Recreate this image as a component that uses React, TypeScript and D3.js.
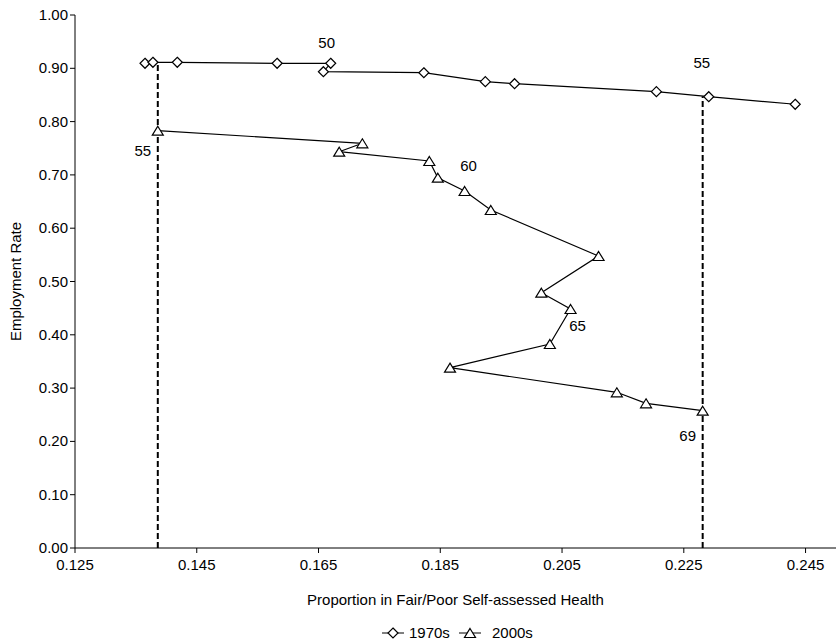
import React from "react";
import * as d3 from "d3";

// Proportion in fair/poor self-assessed health (x) vs employment rate (y), by age
const health1970s = [0.1365, 0.1378, 0.1418, 0.1582, 0.167, 0.1658, 0.1823, 0.1924, 0.1972, 0.2205, 0.2291, 0.2433];
const employment1970s = [0.9094, 0.9113, 0.9113, 0.9094, 0.9094, 0.8936, 0.8917, 0.8749, 0.8711, 0.8561, 0.8467, 0.8325];

const health2000s = [0.1386, 0.1722, 0.1684, 0.1832, 0.1846, 0.189, 0.1933, 0.211, 0.2016, 0.2064, 0.203, 0.1866, 0.214, 0.2188, 0.2281];
const employment2000s = [0.7829, 0.7593, 0.7435, 0.7261, 0.6947, 0.6698, 0.6341, 0.5478, 0.479, 0.4484, 0.3827, 0.3383, 0.2921, 0.2715, 0.2576];

const xTickValues = [0.125, 0.145, 0.165, 0.185, 0.205, 0.225, 0.245];
const yTickValues = [0, 0.1, 0.2, 0.3, 0.4, 0.5, 0.6, 0.7, 0.8, 0.9, 1.0];

const seriesNames = ["1970s", "2000s"];
const ageText1970s = ["50", "55"];
const ageIndex1970s = [4, 10];
const ageText2000s = ["55", "60", "65", "69"];
const ageIndex2000s = [0, 5, 9, 14];

const W = 836;
const H = 644;
const FONT = "'Liberation Sans', Arial, sans-serif";
const FS = 15;

type Pt = [number, number];

function interpolateY(pts: Pt[], xv: number): number {
  for (let i = 0; i < pts.length - 1; i++) {
    const [x0, y0] = pts[i];
    const [x1, y1] = pts[i + 1];
    if ((xv >= x0 && xv <= x1) || (xv <= x0 && xv >= x1)) {
      if (x1 === x0) return y0;
      return y0 + ((xv - x0) / (x1 - x0)) * (y1 - y0);
    }
  }
  return pts[0][1];
}

function Diamond({ cx, cy }: { cx: number; cy: number }) {
  const r = 5;
  return (
    <path
      d={`M${cx},${cy - r}L${cx + r},${cy}L${cx},${cy + r}L${cx - r},${cy}Z`}
      fill="#fff"
      stroke="#000"
      strokeWidth={1.2}
    />
  );
}

function Triangle({ cx, cy }: { cx: number; cy: number }) {
  const w = 5.5;
  const h = 4.5;
  return (
    <path
      d={`M${cx},${cy - h}L${cx + w},${cy + h}L${cx - w},${cy + h}Z`}
      fill="#fff"
      stroke="#000"
      strokeWidth={1.2}
    />
  );
}

export default function App() {
  const x = d3.scaleLinear().domain([0.125, 0.25]).range([75, 836]);
  const y = d3.scaleLinear().domain([0, 1]).range([548, 15]);

  const pts1970: Pt[] = health1970s.map((h, i) => [h, employment1970s[i]]);
  const pts2000: Pt[] = health2000s.map((h, i) => [h, employment2000s[i]]);

  const line = d3
    .line<Pt>()
    .x((d) => x(d[0]))
    .y((d) => y(d[1]));

  // vertical reference lines at 2000s ages 55 and 69, rising to the 1970s curve
  const refX = [health2000s[0], health2000s[health2000s.length - 1]];

  const [x0, x1] = x.range();
  const [y0, y1] = y.range();

  const offsets1970 = [
    [-4, -15],
    [-7, -29],
  ];
  const offsets2000 = [
    [-15, 25],
    [4, -20],
    [7, 22],
    [-15, 30],
  ];

  return (
    <svg
      width={W}
      height={H}
      style={{ position: "absolute", left: 0, top: 0, background: "#fff" }}
      fontFamily={FONT}
    >
      <rect width={W} height={H} fill="#fff" />

      {/* axes */}
      <line x1={x0} x2={x0} y1={y1} y2={y0} stroke="#000" strokeWidth={1} />
      <line x1={x0} x2={x1} y1={y0} y2={y0} stroke="#000" strokeWidth={1} />

      {yTickValues.map((t) => (
        <g key={`y${t}`}>
          <line x1={x0 - 5} x2={x0} y1={y(t)} y2={y(t)} stroke="#000" />
          <text x={x0 - 7} y={y(t) + 5} textAnchor="end" fontSize={FS} fill="#000">
            {d3.format(".2f")(t)}
          </text>
        </g>
      ))}

      {xTickValues.map((t) => (
        <g key={`x${t}`}>
          <line x1={x(t)} x2={x(t)} y1={y0} y2={y0 + 5} stroke="#000" />
          <text x={x(t)} y={y0 + 22} textAnchor="middle" fontSize={FS} fill="#000">
            {d3.format(".3f")(t)}
          </text>
        </g>
      ))}

      <text
        transform={`translate(21,${(y0 + y1) / 2}) rotate(-90)`}
        textAnchor="middle"
        fontSize={FS}
        fill="#000"
      >
        Employment Rate
      </text>
      <text x={(x0 + x1) / 2} y={605} textAnchor="middle" fontSize={FS} fill="#000">
        Proportion in Fair/Poor Self-assessed Health
      </text>

      {/* reference lines */}
      {refX.map((rx, i) => (
        <line
          key={`ref${i}`}
          x1={x(rx)}
          x2={x(rx)}
          y1={y(0)}
          y2={y(interpolateY(pts1970, rx))}
          stroke="#000"
          strokeWidth={2}
          strokeDasharray="6,3"
        />
      ))}

      {/* series */}
      <path d={line(pts1970) || ""} fill="none" stroke="#000" strokeWidth={1.2} />
      <path d={line(pts2000) || ""} fill="none" stroke="#000" strokeWidth={1.2} />

      {pts1970.map((p, i) => (
        <Diamond key={`d${i}`} cx={x(p[0])} cy={y(p[1])} />
      ))}
      {pts2000.map((p, i) => (
        <Triangle key={`t${i}`} cx={x(p[0])} cy={y(p[1])} />
      ))}

      {/* age annotations */}
      {ageText1970s.map((s, i) => {
        const p = pts1970[ageIndex1970s[i]];
        const off = offsets1970[i];
        return (
          <text key={`a70${i}`} x={x(p[0]) + off[0]} y={y(p[1]) + off[1]} textAnchor="middle" fontSize={FS} fill="#000">
            {s}
          </text>
        );
      })}
      {ageText2000s.map((s, i) => {
        const p = pts2000[ageIndex2000s[i]];
        const off = offsets2000[i];
        return (
          <text key={`a00${i}`} x={x(p[0]) + off[0]} y={y(p[1]) + off[1]} textAnchor="middle" fontSize={FS} fill="#000">
            {s}
          </text>
        );
      })}

      {/* legend */}
      <g transform="translate(382,633)">
        <line x1={0} x2={22} y1={0} y2={0} stroke="#000" />
        <Diamond cx={11} cy={0} />
        <text x={27} y={5} fontSize={FS} fill="#000">
          {seriesNames[0]}
        </text>
        <line x1={77} x2={99} y1={0} y2={0} stroke="#000" />
        <Triangle cx={88} cy={0} />
        <text x={110} y={5} fontSize={FS} fill="#000">
          {seriesNames[1]}
        </text>
      </g>
    </svg>
  );
}
